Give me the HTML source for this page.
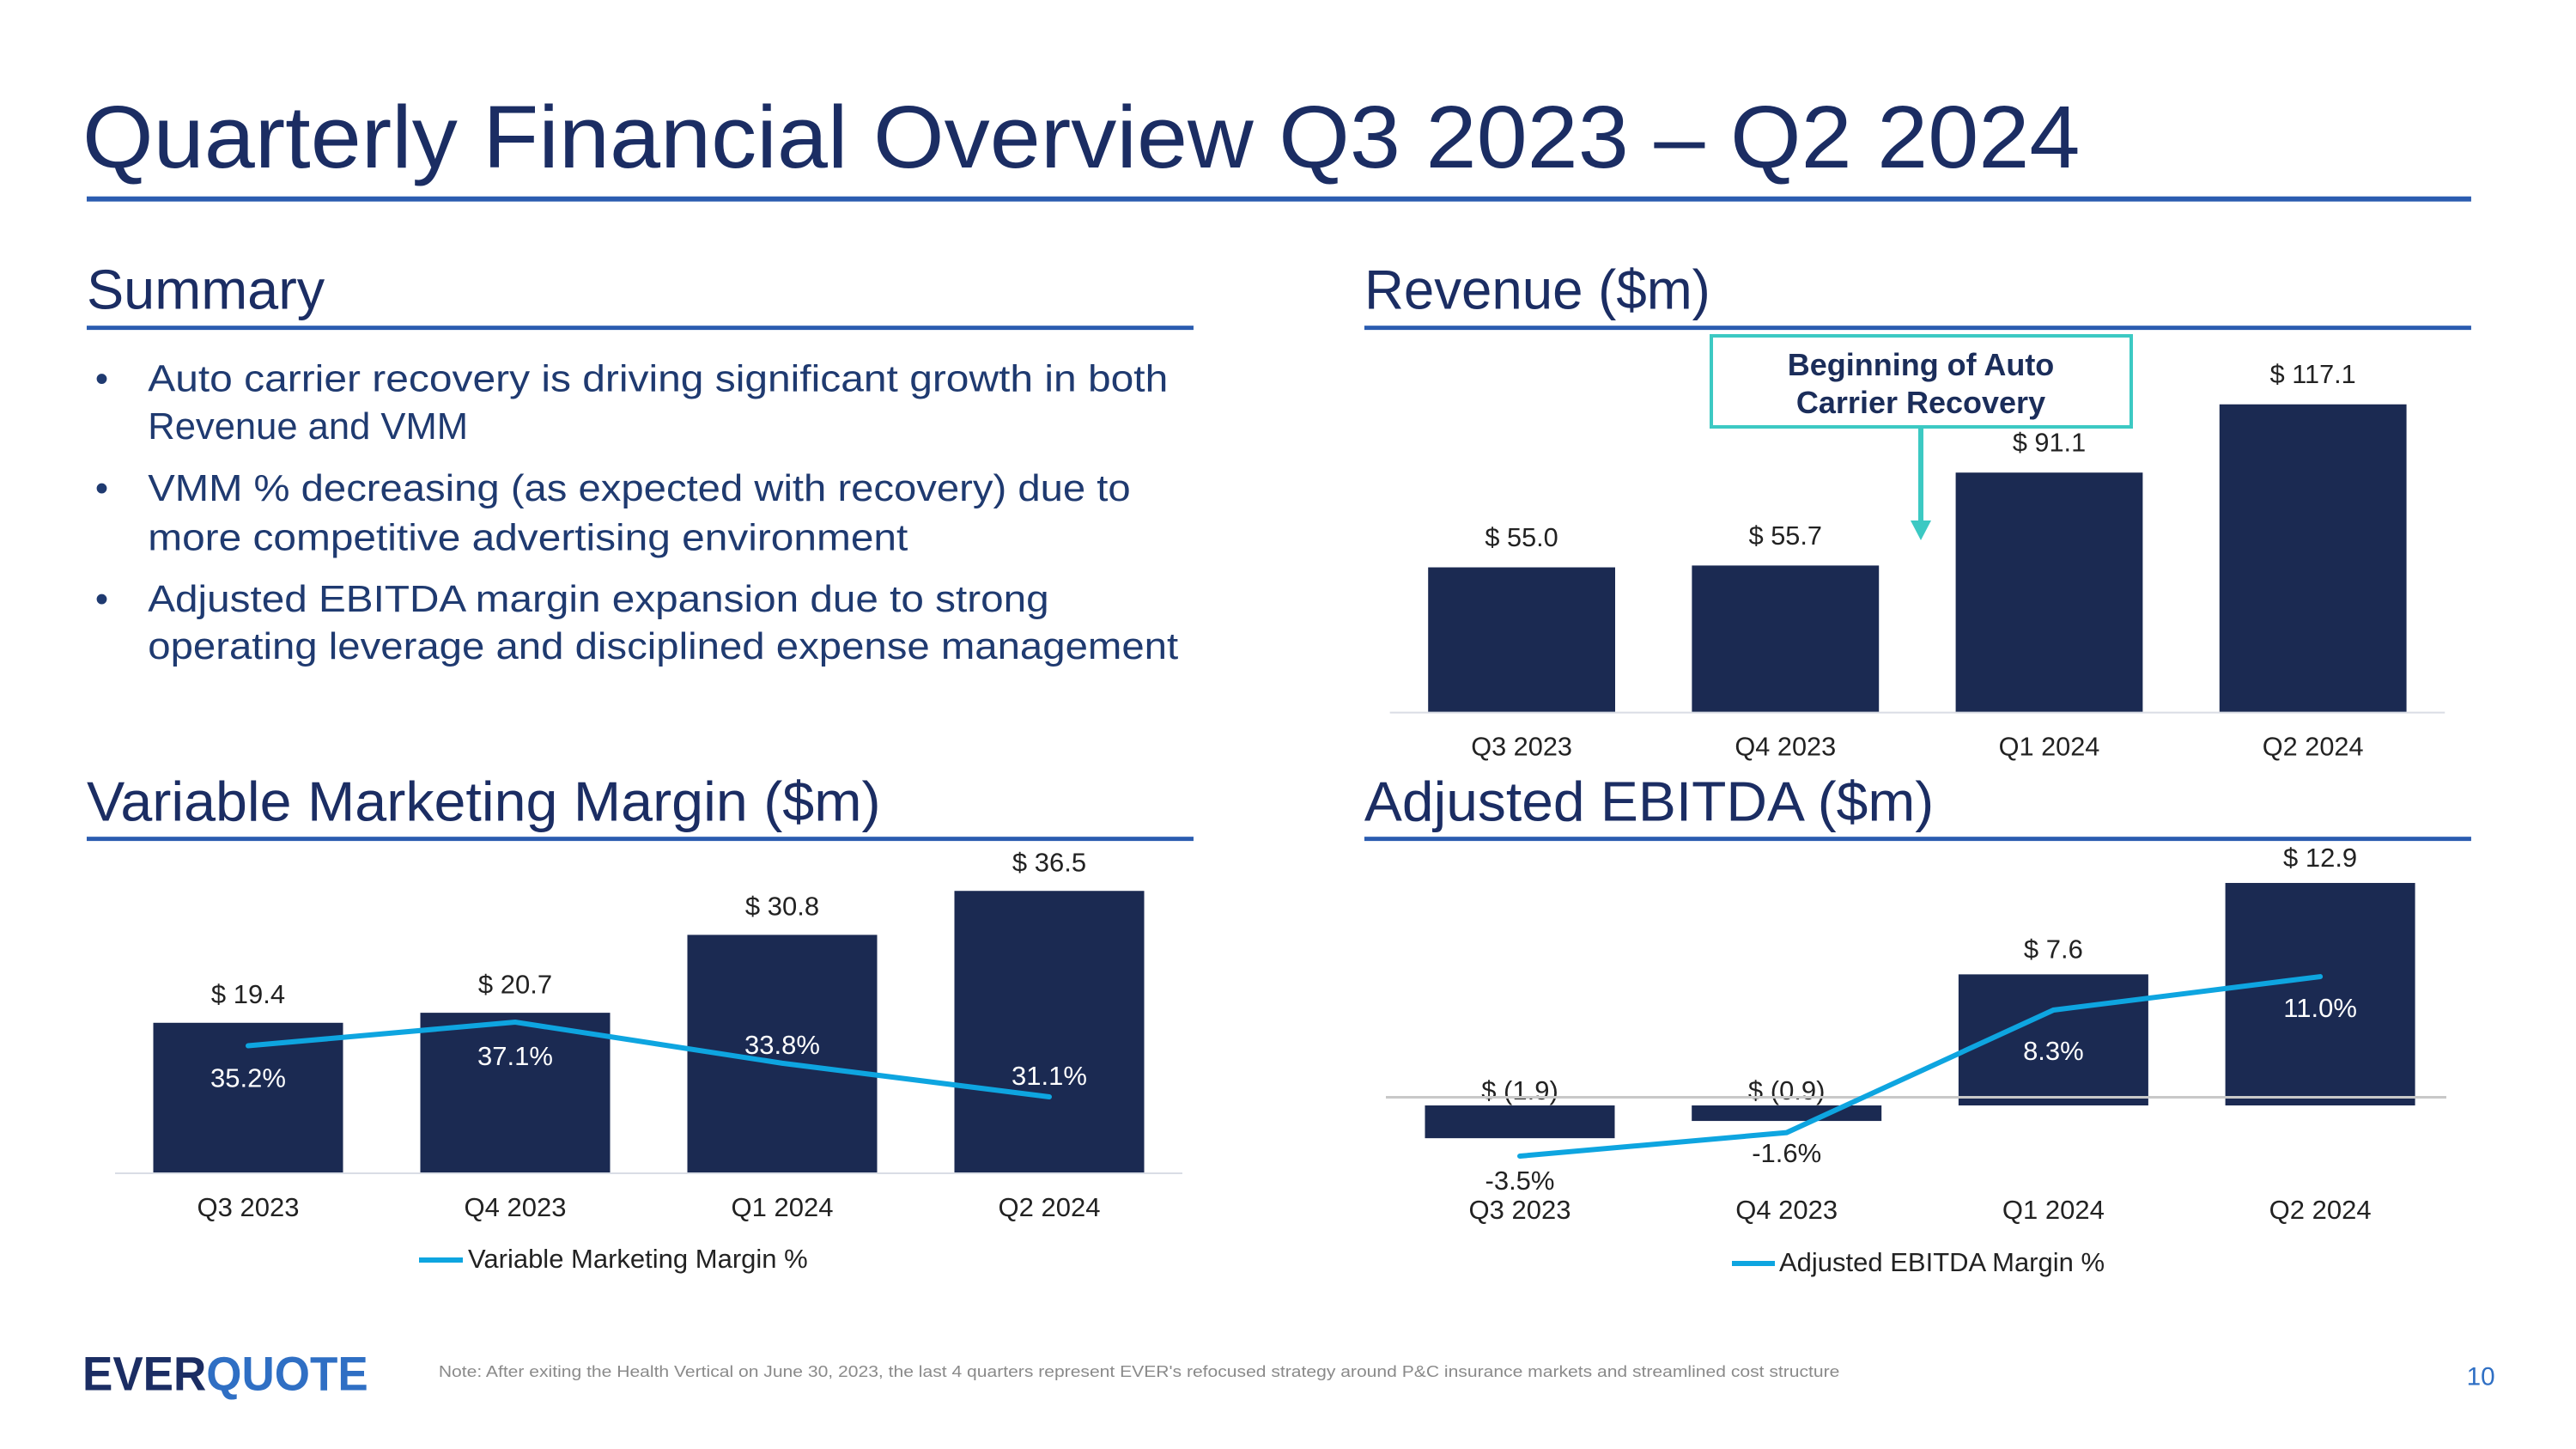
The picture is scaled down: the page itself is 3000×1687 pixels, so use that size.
<!DOCTYPE html>
<html><head><meta charset="utf-8"><style>
html,body{margin:0;padding:0;background:#fff}
svg{display:block}
text{font-family:"Liberation Sans",sans-serif}
</style></head><body>
<svg id="s" width="3000" height="1687" viewBox="0 0 3000 1687" xmlns="http://www.w3.org/2000/svg">
<g transform="scale(0.99)">
<text x="97" y="197" font-size="104" fill="#1b2d63" textLength="2350" lengthAdjust="spacingAndGlyphs">Quarterly Financial Overview Q3 2023 – Q2 2024</text>
<rect x="102" y="231" width="2805" height="6" fill="#2b5cb0"/>

<text x="102" y="363" font-size="66" fill="#1b2d63" textLength="280" lengthAdjust="spacingAndGlyphs">Summary</text>
<rect x="102" y="383" width="1302" height="5" fill="#2b5cb0"/>
<text x="1605" y="363" font-size="66" fill="#1b2d63" textLength="407" lengthAdjust="spacingAndGlyphs">Revenue ($m)</text>
<rect x="1605" y="383" width="1302" height="5" fill="#2b5cb0"/>
<text x="102" y="965" font-size="66" fill="#1b2d63" textLength="934" lengthAdjust="spacingAndGlyphs">Variable Marketing Margin ($m)</text>
<rect x="102" y="984" width="1302" height="5" fill="#2b5cb0"/>
<text x="1605" y="965" font-size="66" fill="#1b2d63" textLength="670" lengthAdjust="spacingAndGlyphs">Adjusted EBITDA ($m)</text>
<rect x="1605" y="984" width="1302" height="5" fill="#2b5cb0"/>

<g font-size="44" fill="#1f3a70">
<text x="112" y="460">•</text>
<text x="174" y="460" textLength="1200" lengthAdjust="spacingAndGlyphs">Auto carrier recovery is driving significant growth in both</text>
<text x="174" y="516">Revenue and VMM</text>
<text x="112" y="589">•</text>
<text x="174" y="589" textLength="1156" lengthAdjust="spacingAndGlyphs">VMM % decreasing (as expected with recovery) due to</text>
<text x="174" y="647" textLength="894" lengthAdjust="spacingAndGlyphs">more competitive advertising environment</text>
<text x="112" y="719">•</text>
<text x="174" y="719" textLength="1060" lengthAdjust="spacingAndGlyphs">Adjusted EBITDA margin expansion due to strong</text>
<text x="174" y="775" textLength="1212" lengthAdjust="spacingAndGlyphs">operating leverage and disciplined expense management</text>
</g>

<text x="97" y="1635" font-size="56" font-weight="bold" fill="#1b2d63" textLength="336" lengthAdjust="spacingAndGlyphs">EVER<tspan fill="#2f6fc4">QUOTE</tspan></text>
<text x="516" y="1619" font-size="19" fill="#8a8a8a" textLength="1648" lengthAdjust="spacingAndGlyphs">Note: After exiting the Health Vertical on June 30, 2023, the last 4 quarters represent EVER's refocused strategy around P&amp;C insurance markets and streamlined cost structure</text>
<text x="2935" y="1629" font-size="30" fill="#2f6fc4" text-anchor="end">10</text>
<g id="revchart"></g>
</g>
<rect x="1993" y="391" width="489" height="106" fill="#fff" stroke="#3cc9c3" stroke-width="4"/>
<text x="2237" y="437" font-size="36" font-weight="bold" fill="#1b2d5a" text-anchor="middle">Beginning of Auto</text>
<text x="2237" y="481" font-size="36" font-weight="bold" fill="#1b2d5a" text-anchor="middle">Carrier Recovery</text>
<rect x="2234" y="497" width="6" height="112" fill="#3cc9c3"/>
<polygon points="2225,606 2249,606 2237,629" fill="#3cc9c3"/>
<g id="charts"></g>
</svg>
<script>
const categories = ["Q3 2023","Q4 2023","Q1 2024","Q2 2024"];
const revenueValues = [55.0, 55.7, 91.1, 117.1];
const revenueLabels = ["$ 55.0","$ 55.7","$ 91.1","$ 117.1"];
const vmmValues = [19.4, 20.7, 30.8, 36.5];
const vmmLabels = ["$ 19.4","$ 20.7","$ 30.8","$ 36.5"];
const vmmPct = [35.2, 37.1, 33.8, 31.1];
const vmmPctLabels = ["35.2%","37.1%","33.8%","31.1%"];
const ebitdaValues = [-1.9, -0.9, 7.6, 12.9];
const ebitdaLabels = ["$ (1.9)","$ (0.9)","$ 7.6","$ 12.9"];
const ebitdaPct = [-3.5, -1.6, 8.3, 11.0];
const ebitdaPctLabels = ["-3.5%","-1.6%","8.3%","11.0%"];

const NS = "http://www.w3.org/2000/svg";
let root = document.getElementById("revchart");
const NAVY = "#1b2a52", CYAN = "#0ea5e0";
function mk(tag, attrs, parent, txt) {
  const e = document.createElementNS(NS, tag);
  for (const k in attrs) e.setAttribute(k, attrs[k]);
  if (txt !== undefined) e.textContent = txt;
  (parent || root).appendChild(e);
  return e;
}
function text(x, y, s, fill, name, size) {
  const t = mk("text", {x: x, y: y, "font-size": size || 31, fill: fill, "text-anchor": "middle", "dominant-baseline": "middle"}, root, s);
  
  
  return t;
}

// Revenue chart
(function(){
  const xs = i => 1790 + i * 310.3;
  const base = 837, k = 3.087, bw = 220;
  const yv = v => base - v * k;
  const ax = mk("rect", {x: 1635, y: base, width: 1241, height: 2, fill: "#d9dde5"});
  
  
  revenueValues.forEach((v, i) => {
    const r = mk("rect", {x: xs(i) - bw/2, y: yv(v), width: bw, height: base - yv(v), fill: NAVY});
    
    
    text(xs(i), yv(v) - 33, revenueLabels[i], "#222", "revenue-value-label");
    text(xs(i), 880, categories[i], "#222", "revenue-category-label");
  });
})();

root = document.getElementById("charts");

// VMM chart
(function(){
  const xs = i => 289 + i * 311;
  const base = 1365, k = 8.98, bw = 221;
  const yv = v => base - v * k;
  const yp = p => 1190 - (p - 37.1) * 14.5;
  const ax = mk("rect", {x: 134, y: base, width: 1243, height: 2, fill: "#d9dde5"});
  
  
  vmmValues.forEach((v, i) => {
    const r = mk("rect", {x: xs(i) - bw/2, y: yv(v), width: bw, height: base - yv(v), fill: NAVY});
    
    
    text(xs(i), yv(v) - 31, vmmLabels[i], "#222", "vmm-value-label");
    text(xs(i), 1408, categories[i], "#222", "vmm-category-label");
  });
  const pts = vmmPct.map((p, i) => xs(i) + "," + yp(p)).join(" ");
  const pl = mk("polyline", {points: pts, fill: "none", stroke: CYAN, "stroke-width": 6, "stroke-linecap": "round"});
  
  
  const offs = [40, 42, -19, -22];
  vmmPct.forEach((p, i) => {
    text(xs(i), yp(p) + offs[i], vmmPctLabels[i], "#fff", "vmm-pct-label");
  });
  const ll = mk("rect", {x: 488, y: 1464, width: 51, height: 6, fill: CYAN});
  
  
  const lt = text(545, 1468, "Variable Marketing Margin %", "#222", "vmm-legend-label");
  lt.setAttribute("text-anchor", "start");
})();

// EBITDA chart
(function(){
  const xs = i => 1770 + i * 310.7;
  const base = 1287, k = 20.08, bw = 221;
  const yv = v => base - v * k;
  const yp = p => 1346 - (p + 3.5) * 14.41;
  const zl = mk("rect", {x: 1614, y: 1276, width: 1235, height: 3, fill: "#c8c8c8"});
  
  
  ebitdaValues.forEach((v, i) => {
    const y0 = Math.min(yv(v), base), h = Math.abs(v * k);
    const r = mk("rect", {x: xs(i) - bw/2, y: y0, width: bw, height: h, fill: NAVY});
    
    
    const ly = v >= 0 ? yv(v) - 27 : 1272;
    text(xs(i), ly, ebitdaLabels[i], "#222", "ebitda-value-label");
    text(xs(i), 1411, categories[i], "#222", "ebitda-category-label");
  });
  root.appendChild(zl);
  const pts = ebitdaPct.map((p, i) => xs(i) + "," + yp(p)).join(" ");
  const pl = mk("polyline", {points: pts, fill: "none", stroke: CYAN, "stroke-width": 6, "stroke-linecap": "round"});
  
  
  const offs = [31, 26, 50, 39];
  const cols = ["#222", "#222", "#fff", "#fff"];
  ebitdaPct.forEach((p, i) => {
    text(xs(i), yp(p) + offs[i], ebitdaPctLabels[i], cols[i], "ebitda-pct-label");
  });
  const ll = mk("rect", {x: 2017, y: 1468, width: 50, height: 6, fill: CYAN});
  
  
  const lt = text(2072, 1472, "Adjusted EBITDA Margin %", "#222", "ebitda-legend-label");
  lt.setAttribute("text-anchor", "start");
})();
</script>
</body></html>
